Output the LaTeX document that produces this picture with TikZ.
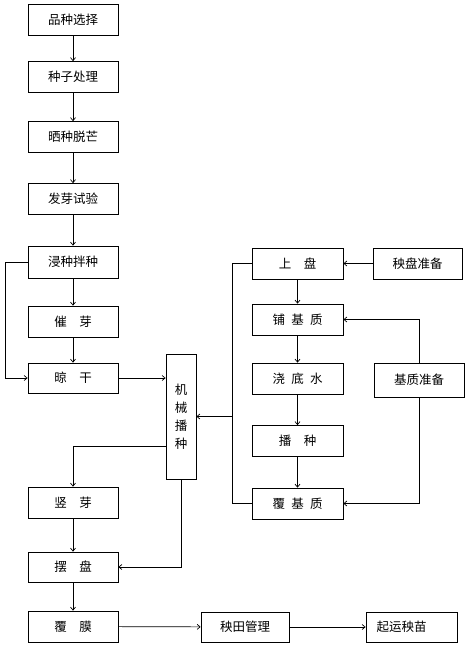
\documentclass[tikz,border=0pt]{standalone}
\usepackage{fontspec}
\setmainfont{Noto Sans CJK SC}
\usetikzlibrary{arrows.meta}
\begin{document}
\begin{tikzpicture}[x=1pt,y=-1pt,
  box/.style={draw, line width=0.7pt, minimum width=90pt, minimum height=31pt, inner sep=0pt, font=\fontsize{12.5pt}{18pt}\selectfont},
  arr/.style={draw, line width=0.7pt, -{Straight Barb[length=3pt,width=5pt]}},
  ln/.style={draw, line width=0.7pt}]
\useasboundingbox (0,0) rectangle (470,650);
% left column
\node[box] (a1) at (73,20) {品种选择};
\node[box] (a2) at (73,77) {种子处理};
\node[box] (a3) at (73,137) {晒种脱芒};
\node[box] (a4) at (73,199) {发芽试验};
\node[box, minimum height=32pt] (a5) at (73,262) {浸种拌种};
\node[box] (a6) at (73,321.5) {催\hspace{1em}芽};
\node[box, minimum height=30pt] (a7) at (73,378) {晾\hspace{1em}干};
% machine seeding
\node[box, minimum width=30pt, minimum height=125pt, align=center] (m) at (181,416.5) {机\\械\\播\\种};
% right column
\node[box, minimum width=91pt] (r1) at (297.5,263.5) {上\hspace{1em}盘};
\node[box, minimum width=91pt] (r2) at (297.5,319.5) {铺\hspace{0.5em}基\hspace{0.5em}质};
\node[box, minimum width=91pt] (r3) at (297.5,378.5) {浇\hspace{0.5em}底\hspace{0.5em}水};
\node[box, minimum width=91pt] (r4) at (297.5,441) {播\hspace{1em}种};
\node[box, minimum width=91pt] (r5) at (297.5,503.5) {覆\hspace{0.5em}基\hspace{0.5em}质};
\node[box, minimum width=89pt] (p1) at (417.5,263.5) {秧盘准备};
\node[box, minimum height=34pt] (p2) at (419,380) {基质准备};
% bottom
\node[box] (b1) at (73,502.5) {竖\hspace{1em}芽};
\node[box, minimum height=30pt] (b2) at (73,567) {摆\hspace{1em}盘};
\node[box] (b3) at (73,626.5) {覆\hspace{1em}膜};
\node[box, minimum width=88pt, minimum height=30pt] (c1) at (245,627) {秧田管理};
\node[box, minimum width=91pt, minimum height=30pt] (c2) at (411.5,627) {起运秧苗\hspace*{20pt}};
% connectors left
\draw[arr] (a1) -- (a2);
\draw[arr] (a2) -- (a3);
\draw[arr] (a3) -- (a4);
\draw[arr] (a4) -- (a5);
\draw[arr] (a5) -- (a6);
\draw[arr] (a6) -- (a7);
\coordinate (lb) at (5,0);
\draw[arr] (a5.west) -- (a5.west -| lb) -- (a7.west -| lb) -- (a7.west);
\draw[arr] (a7.east) -- (a7.east -| m.west);
% right column
\coordinate (bus) at (232,0);
\draw[ln] (r1.west) -- (r1.west -| bus) -- (r5.west -| bus) -- (r5.west);
\draw[arr] (bus |- m.east) -- (m.east);
\draw[arr] (p1) -- (r1);
\draw[arr] (r1) -- (r2);
\draw[arr] (r2) -- (r3);
\draw[arr] (r3) -- (r4);
\draw[arr] (r4) -- (r5);
\draw[arr] (p2.north) |- (r2.east);
\draw[arr] (p2.south) |- (r5.east);
% bottom
\draw[arr] ([yshift=-29.5pt]m.west) -| (b1.north);
\draw[arr] (m.south) |- (b2.east);
\draw[arr] (b1) -- (b2);
\draw[arr] (b2) -- (b3);
\draw[arr] (b3) -- (c1);
\draw[arr] (c1) -- (c2);
\end{tikzpicture}
\end{document}
